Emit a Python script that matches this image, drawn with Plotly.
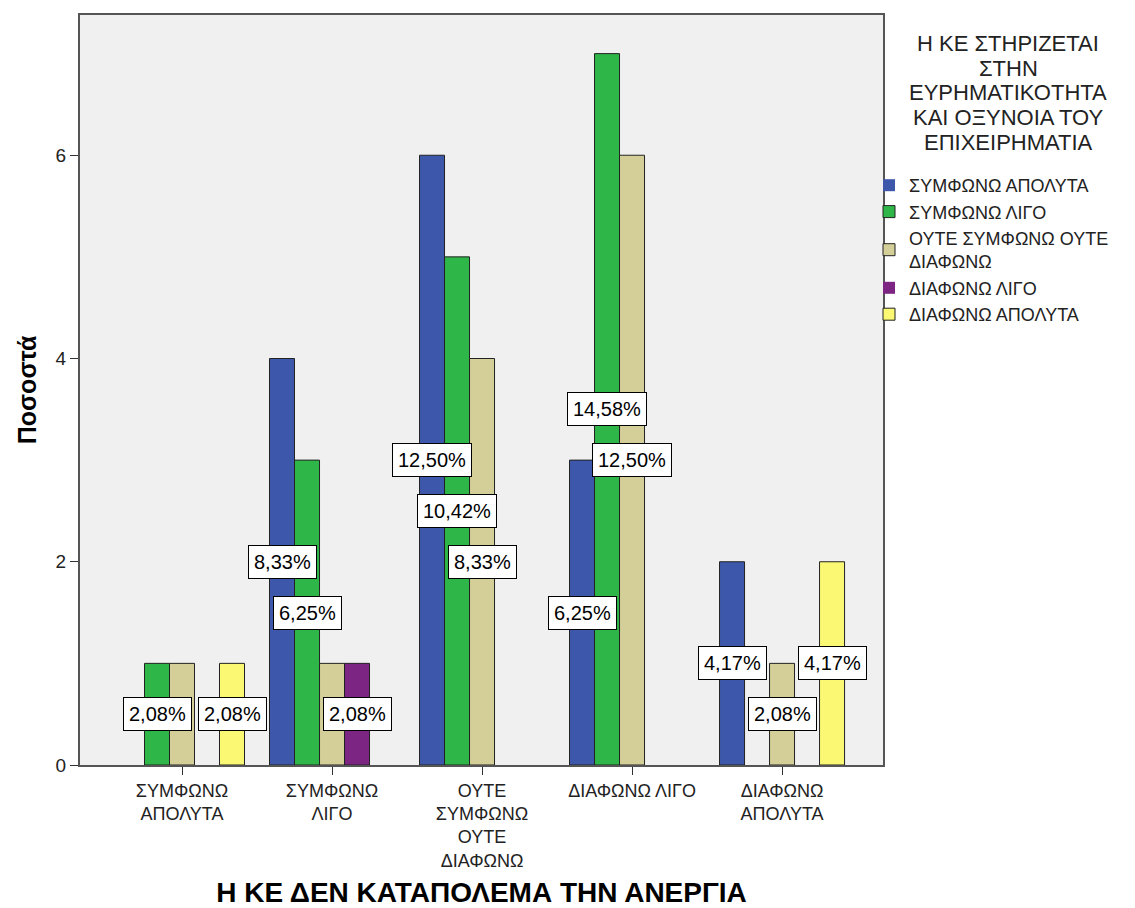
import plotly.graph_objects as go

categories = ["ΣΥΜΦΩΝΩ<br>ΑΠΟΛΥΤΑ", "ΣΥΜΦΩΝΩ<br>ΛΙΓΟ", "ΟΥΤΕ<br>ΣΥΜΦΩΝΩ<br>ΟΥΤΕ<br>ΔΙΑΦΩΝΩ",
              "ΔΙΑΦΩΝΩ ΛΙΓΟ", "ΔΙΑΦΩΝΩ<br>ΑΠΟΛΥΤΑ"]
series_names = ["ΣΥΜΦΩΝΩ ΑΠΟΛΥΤΑ", "ΣΥΜΦΩΝΩ ΛΙΓΟ", "ΟΥΤΕ ΣΥΜΦΩΝΩ ΟΥΤΕ<br>ΔΙΑΦΩΝΩ",
                "ΔΙΑΦΩΝΩ ΛΙΓΟ", "ΔΙΑΦΩΝΩ ΑΠΟΛΥΤΑ"]
legend_title_lines = ["Η ΚΕ ΣΤΗΡΙΖΕΤΑΙ", "ΣΤΗΝ", "ΕΥΡΗΜΑΤΙΚΟΤΗΤΑ", "ΚΑΙ ΟΞΥΝΟΙΑ ΤΟΥ", "ΕΠΙΧΕΙΡΗΜΑΤΙΑ"]
s_apolyta = [0, 4, 6, 3, 2]
s_ligo = [1, 3, 5, 7, 0]
s_oute = [1, 1, 4, 6, 1]
d_ligo = [0, 1, 0, 0, 0]
d_apolyta = [1, 0, 0, 0, 2]
series_values = [s_apolyta, s_ligo, s_oute, d_ligo, d_apolyta]
# percentage labels visible in the chart (others are hidden by overlaps)
lbl_s_apolyta = [None, "8,33%", "12,50%", "6,25%", "4,17%"]
lbl_s_ligo = ["2,08%", "6,25%", "10,42%", "14,58%", None]
lbl_oute = [None, None, "8,33%", "12,50%", "2,08%"]
lbl_d_ligo = [None, "2,08%", None, None, None]
lbl_d_apolyta = ["2,08%", None, None, None, "4,17%"]
series_labels = [lbl_s_apolyta, lbl_s_ligo, lbl_oute, lbl_d_ligo, lbl_d_apolyta]
colors = ["#3D58AB", "#2EB748", "#D4CF98", "#7D2582", "#FBF873"]

FONT = "Arial, Liberation Sans, sans-serif"
W, H = 1135, 908
ml, mr, mt, mb = 80, 252, 15, 143
x_range = [-0.68, 4.673]
bargap = 0.1667

fig = go.Figure()
for name, vals, col in zip(series_names, series_values, colors):
    fig.add_trace(go.Bar(x=list(range(len(categories))), y=vals, name=name,
                         marker=dict(color=col,
                                     line=dict(color="#222222",
                                               width=[1 if v > 0 else 0 for v in vals]))))

plot_w = W - ml - mr
plot_h = H - mt - mb
px_per_cat = plot_w / (x_range[1] - x_range[0])
bar_w = (1 - bargap) / len(series_values) * px_per_cat
n = len(series_values)
for si, (vals, labels) in enumerate(zip(series_values, series_labels)):
    for ci, (v, lab) in enumerate(zip(vals, labels)):
        if lab is None:
            continue
        fig.add_annotation(x=ci, y=v / 2, xref="x", yref="y", text=lab, showarrow=False,
                           xshift=(si - (n - 1) / 2) * bar_w,
                           font=dict(family=FONT, size=20, color="black"),
                           bgcolor="white", bordercolor="black", borderwidth=1, borderpad=5)

# legend title lines (centered over the legend)
title_cx = 1008
title_y0, title_dy = 43, 25
for k, line in enumerate(legend_title_lines):
    fig.add_annotation(x=(title_cx - ml) / plot_w, y=1 - (title_y0 + k * title_dy - mt) / plot_h,
                       xref="paper", yref="paper", text=line, showarrow=False,
                       xanchor="center", yanchor="middle",
                       font=dict(family=FONT, size=22, color="#222222"))

fig.update_layout(
    width=W, height=H,
    margin=dict(l=ml, r=mr, t=mt, b=mb, autoexpand=False),
    paper_bgcolor="white", plot_bgcolor="#F0F0F0",
    barmode="group", bargap=bargap, bargroupgap=0,
    font=dict(family=FONT, size=18, color="#222222"),
    showlegend=True,
    legend=dict(
        x=1 - 14 / plot_w, y=1 - (167 - mt) / plot_h, xanchor="left", yanchor="top",
        font=dict(family=FONT, size=18, color="#222222"),
        tracegroupgap=0, itemwidth=30, bgcolor="rgba(0,0,0,0)",
    ),
    xaxis=dict(
        tickmode="array", tickvals=list(range(len(categories))), ticktext=categories,
        range=x_range, showgrid=False, zeroline=False, automargin=False,
        showline=True, linecolor="#555555", linewidth=2, mirror=True,
        ticks="outside", ticklen=8, tickcolor="#333333",
        tickfont=dict(family=FONT, size=18, color="#222222"),
        title=dict(text="<b>Η ΚΕ ΔΕΝ ΚΑΤΑΠΟΛΕΜΑ ΤΗΝ ΑΝΕΡΓΙΑ</b>",
                   font=dict(family=FONT, size=28, color="black"), standoff=20),
    ),
    yaxis=dict(
        range=[0, 7.38], tickvals=[0, 2, 4, 6], showgrid=False, zeroline=False, automargin=False,
        showline=True, linecolor="#555555", linewidth=2, mirror=True,
        ticks="outside", ticklen=8, tickcolor="#333333",
        tickfont=dict(family=FONT, size=19, color="#222222"),
        title=dict(text="<b>Ποσοστά</b>", font=dict(family=FONT, size=25, color="black"), standoff=12),
    ),
)

fig.write_html("out.html", config={"displayModeBar": False},
               post_script="document.body.style.margin='0px';")
